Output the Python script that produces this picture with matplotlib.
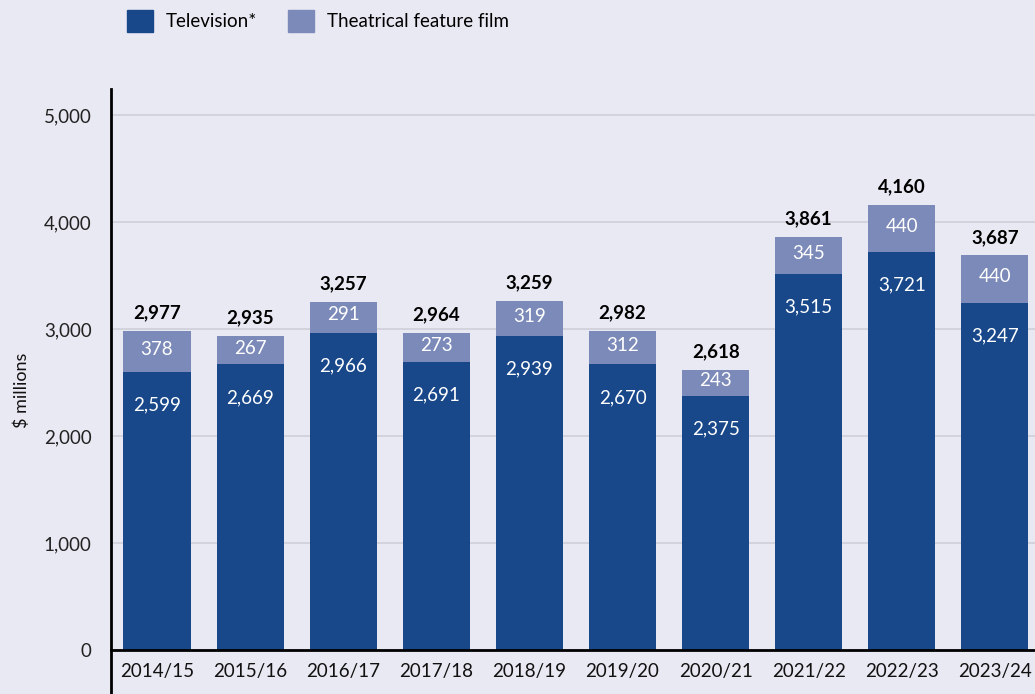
import numpy as np
import matplotlib.pyplot as plt
from matplotlib.patches import Patch

# Production volume by segment ($ millions)
years = ['2014/15', '2015/16', '2016/17', '2017/18', '2018/19',
         '2019/20', '2020/21', '2021/22', '2022/23', '2023/24']
television = [2599, 2669, 2966, 2691, 2939, 2670, 2375, 3515, 3721, 3247]
film = [378, 267, 291, 273, 319, 312, 243, 345, 440, 440]
totals = [2977, 2935, 3257, 2964, 3259, 2982, 2618, 3861, 4160, 3687]

bg = '#e9e9f3'
tv_color = '#18488a'
film_color = '#7b8ab8'

plt.rcParams['font.family'] = ['Lato', 'DejaVu Sans']

fig = plt.figure(figsize=(10.35, 6.94), dpi=100, facecolor=bg)
ax = fig.add_axes([111 / 1035, 0.0, 1 - 111 / 1035, 1 - 89 / 694])
ax.set_facecolor(bg)

x = np.arange(len(years))
w = 0.72
ax.bar(x, television, w, color=tv_color, zorder=3)
ax.bar(x, film, w, bottom=television, color=film_color, zorder=3)

for i in range(len(years)):
    ax.text(x[i], television[i] - 310, f'{television[i]:,}', ha='center', va='center',
            color='white', fontsize=13.5, zorder=4)
    ax.text(x[i], television[i] + film[i] / 2 + 20, f'{film[i]:,}', ha='center', va='center',
            color='white', fontsize=13.5, zorder=4)
    ax.annotate(f'{totals[i]:,}', (x[i], totals[i]), xytext=(0, 7), textcoords='offset points',
                ha='center', va='bottom', fontsize=13.5, fontweight='bold', color='black')

ax.grid(axis='y', color='#cfcfda', linewidth=1.2, zorder=0)
ax.set_axisbelow(True)
ax.spines['top'].set_visible(False)
ax.spines['right'].set_visible(False)
ax.spines['bottom'].set_position(('data', 0))
ax.spines['bottom'].set_linewidth(2)
ax.spines['bottom'].set_zorder(5)
ax.spines['left'].set_linewidth(2)

ax.set_xlim(-0.494, 9.43)
ax.set_ylim(-411, 5243)
ax.set_yticks([0, 1000, 2000, 3000, 4000, 5000])
ax.set_yticklabels(['0', '1,000', '2,000', '3,000', '4,000', '5,000'])
ax.set_xticks(x)
ax.set_xticklabels(years)
ax.tick_params(axis='y', length=0, pad=14, labelsize=13.5, labelcolor='#222222')
ax.tick_params(axis='x', length=0, pad=9, labelsize=13.5, labelcolor='#111111')

fig.text(22 / 1035, 1 - 390 / 694, '$ millions', rotation=90, ha='center', va='center',
         fontsize=13, color='#111111')

handles = [Patch(color=tv_color, label='Television*'),
           Patch(color=film_color, label='Theatrical feature film')]
fig.legend(handles=handles, loc='upper left', bbox_to_anchor=(110 / 1035, 1.01), ncol=2,
           frameon=False, fontsize=13.5, handlelength=1.4, handleheight=1.4,
           handletextpad=0.7, columnspacing=1.6)

fig.savefig('out.png', dpi=100, facecolor=bg)
